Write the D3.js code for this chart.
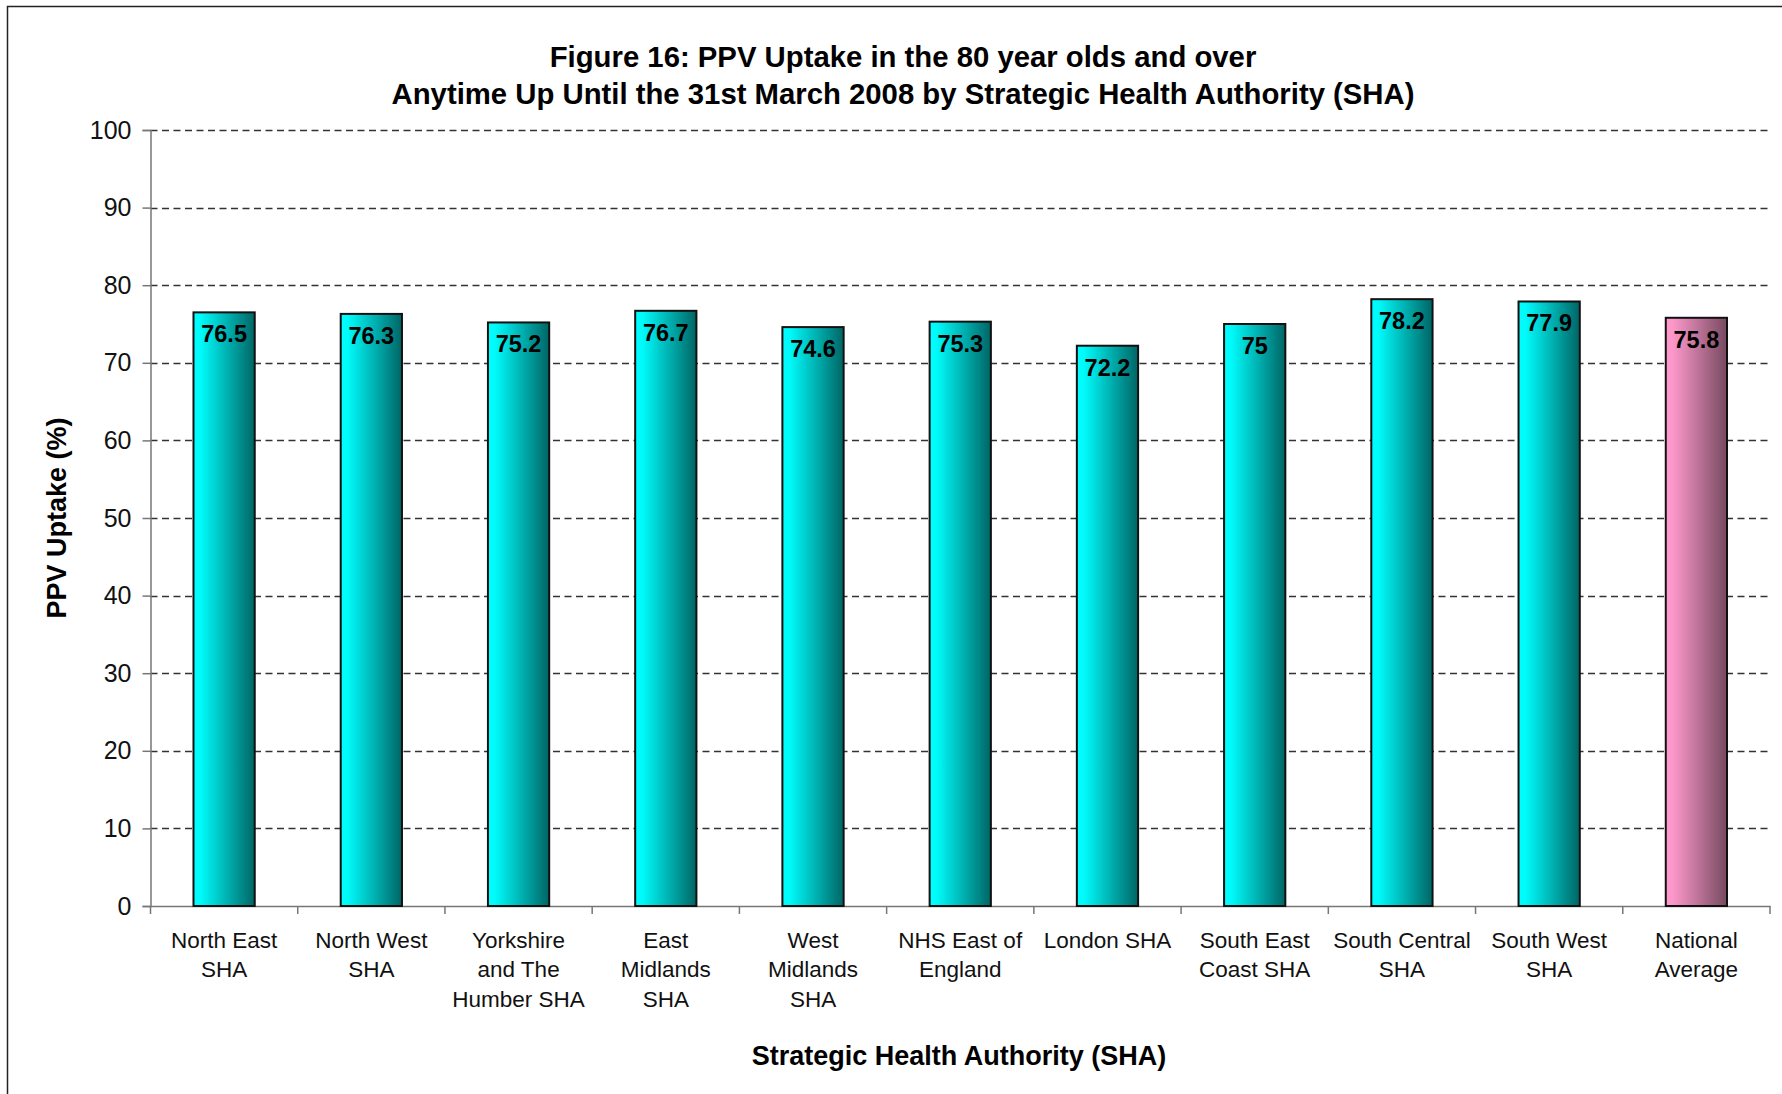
<!DOCTYPE html>
<html>
<head>
<meta charset="utf-8">
<script src="https://cdn.jsdelivr.net/npm/d3@7"></script>
<style>
  html, body { margin: 0; padding: 0; background: #fff; }
  svg { display: block; }
  text { font-family: "Liberation Sans", Arial, sans-serif; }
</style>
</head>
<body>
<svg id="chart" width="1782" height="1094"></svg>
<script>
const categories = [
  ["North East", "SHA"],
  ["North West", "SHA"],
  ["Yorkshire", "and The", "Humber SHA"],
  ["East", "Midlands", "SHA"],
  ["West", "Midlands", "SHA"],
  ["NHS East of", "England"],
  ["London SHA"],
  ["South East", "Coast SHA"],
  ["South Central", "SHA"],
  ["South West", "SHA"],
  ["National", "Average"]
];
const uptake = [76.5, 76.3, 75.2, 76.7, 74.6, 75.3, 72.2, 75, 78.2, 77.9, 75.8];
const yTicks = [0, 10, 20, 30, 40, 50, 60, 70, 80, 90, 100];
const titleLines = [
  "Figure 16: PPV Uptake in the 80 year olds and over",
  "Anytime Up Until the 31st March 2008 by Strategic Health Authority (SHA)"
];
const yTitle = "PPV Uptake (%)";
const xTitle = "Strategic Health Authority (SHA)";

(function () {
const svg = d3.select("#chart");
const pLeft = 150.5, pRight = 1770, pTop = 130, pBottom = 906;

const keys = categories.map((c, i) => i);
const x = d3.scaleBand().domain(keys).range([pLeft, pRight]).paddingInner(0).paddingOuter(0);
const y = d3.scaleLinear().domain([0, 100]).range([pBottom, pTop]);
const barW = x.step() * 0.416;

// border
svg.append("rect").attr("x", 7.5).attr("y", 6.5).attr("width", 1800).attr("height", 1200)
  .attr("fill", "none").attr("stroke", "#222").attr("stroke-width", 1.5);

// gradients
const defs = svg.append("defs");
const gC = defs.append("linearGradient").attr("id", "gCyan").attr("x1", "0").attr("x2", "1").attr("y1", "0").attr("y2", "0");
gC.append("stop").attr("offset", "0").attr("stop-color", "#00ffff");
gC.append("stop").attr("offset", "0.12").attr("stop-color", "#00fafa");
gC.append("stop").attr("offset", "1").attr("stop-color", "#006565");
const gP = defs.append("linearGradient").attr("id", "gPink").attr("x1", "0").attr("x2", "1").attr("y1", "0").attr("y2", "0");
gP.append("stop").attr("offset", "0").attr("stop-color", "#ff99cc");
gP.append("stop").attr("offset", "0.12").attr("stop-color", "#fb97c9");
gP.append("stop").attr("offset", "1").attr("stop-color", "#774a60");

// gridlines
svg.append("g").selectAll("line").data(yTicks.filter(d => d > 0)).join("line")
  .attr("x1", pLeft).attr("x2", pRight)
  .attr("y1", d => Math.round(y(d)) + 0.5).attr("y2", d => Math.round(y(d)) + 0.5)
  .attr("stroke", "#333").attr("stroke-width", 1.3).attr("stroke-dasharray", "7,4.5");

// y axis
const yAxis = svg.append("g").attr("transform", `translate(${pLeft},0)`)
  .call(d3.axisLeft(y).tickValues(yTicks).tickSize(8).tickPadding(11).tickFormat(d3.format("d")));
yAxis.select(".domain").attr("stroke", "#777").attr("stroke-width", 1.5);
yAxis.selectAll(".tick line").attr("stroke", "#777").attr("stroke-width", 1.5);
yAxis.selectAll(".tick text").attr("font-size", 25).attr("fill", "#111")
  .style("font-family", "'Liberation Sans', Arial, sans-serif");

// x axis
const xAxis = svg.append("g").attr("transform", `translate(0,${pBottom})`)
  .call(d3.axisBottom(x).tickSize(0).tickFormat(""));
xAxis.select(".domain").attr("stroke", "#777").attr("stroke-width", 1.5);
xAxis.selectAll(".tick").remove();
const boundaries = keys.map(k => x(k)).concat([pRight]);
svg.append("g").selectAll("line").data(boundaries).join("line")
  .attr("x1", d => d).attr("x2", d => d).attr("y1", pBottom).attr("y2", pBottom + 8)
  .attr("stroke", "#777").attr("stroke-width", 1.5);

// bars
svg.append("g").selectAll("rect").data(uptake).join("rect")
  .attr("x", (d, i) => x(i) + x.bandwidth() / 2 - barW / 2)
  .attr("width", barW)
  .attr("y", d => y(d))
  .attr("height", d => pBottom - y(d))
  .attr("fill", (d, i) => i === uptake.length - 1 ? "url(#gPink)" : "url(#gCyan)")
  .attr("stroke", "#111").attr("stroke-width", 2);

// data labels
svg.append("g").selectAll("text").data(uptake).join("text")
  .attr("x", (d, i) => x(i) + x.bandwidth() / 2)
  .attr("y", d => y(d) + 30)
  .attr("text-anchor", "middle")
  .attr("font-size", 23.5).attr("font-weight", "bold").attr("fill", "#000")
  .text(d => d);

// category labels
const catG = svg.append("g");
categories.forEach((lines, i) => {
  const cx = x(i) + x.bandwidth() / 2;
  const t = catG.append("text")
    .attr("x", cx).attr("y", 947.5)
    .attr("text-anchor", "middle")
    .attr("font-size", 22.5).attr("fill", "#111");
  lines.forEach((ln, j) => {
    t.append("tspan").attr("x", cx).attr("dy", j === 0 ? 0 : 29.5).text(ln);
  });
});

// titles
svg.append("g").selectAll("text").data(titleLines).join("text")
  .attr("x", 903).attr("y", (d, i) => 67 + i * 37)
  .attr("text-anchor", "middle").attr("font-size", 29.3).attr("font-weight", "bold").attr("fill", "#000")
  .text(d => d);

svg.append("text")
  .attr("transform", `translate(66,${(pTop + pBottom) / 2}) rotate(-90)`)
  .attr("text-anchor", "middle").attr("font-size", 27).attr("font-weight", "bold").attr("fill", "#000")
  .text(yTitle);

svg.append("text")
  .attr("x", 959).attr("y", 1065)
  .attr("text-anchor", "middle").attr("font-size", 27).attr("font-weight", "bold").attr("fill", "#000")
  .text(xTitle);
})();
</script>
</body>
</html>
